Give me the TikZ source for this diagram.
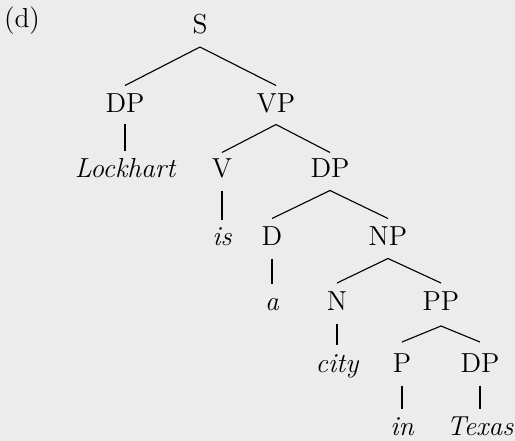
\documentclass[tikz,border=0pt]{standalone}
\usetikzlibrary{positioning}

\begin{document}
\begin{tikzpicture}[x=0.4pt, y=-0.4pt,
    cat/.style={font=\fontsize{11}{13}\selectfont, inner sep=0pt, text height=7.4pt, text depth=0pt, anchor=base},
    word/.style={cat, font=\fontsize{11}{13}\selectfont\itshape},
    branch/.style={black, line width=0.45pt}]
    \fill[black!7.5] (0,0) rectangle (515,441);
    \useasboundingbox (0,0) rectangle (515,441);
    \node[cat] (lbl) at (22,27) {(d)};
    \node[cat] (s) at (200,33) {S};
    \node[cat] (dp1) at (125,112) {DP};
    \node[cat] (vp) at (276,112) {VP};
    \node[word] (lockhart) at (125,177) {Lockhart};
    \node[cat] (v) at (222,177) {V};
    \node[cat] (dp2) at (330,177) {DP};
    \node[word] (is) at (222,245) {is};
    \node[cat] (d) at (272,245) {D};
    \node[cat] (np) at (388,245) {NP};
    \node[word] (a) at (272,310) {a};
    \node[cat] (n) at (337,310) {N};
    \node[cat] (pp) at (441,310) {PP};
    \node[word] (city) at (337,372) {city};
    \node[cat] (p) at (402,372) {P};
    \node[cat] (dp3) at (480,372) {DP};
    \node[word] (in) at (402,435) {in};
    \node[word] (texas) at (480,435) {Texas};
    \draw[branch] ([yshift=-5.4pt]s.south) -- ([yshift=3pt]dp1.north);
    \draw[branch] ([yshift=-5.4pt]s.south) -- ([yshift=3pt]vp.north);
    \draw[branch] ([yshift=-4.4pt]dp1.south) -- ([yshift=3pt]lockhart.north);
    \draw[branch] ([yshift=-4.8pt]vp.south) -- ([yshift=2.2pt]v.north);
    \draw[branch] ([yshift=-4.8pt]vp.south) -- ([yshift=2.2pt]dp2.north);
    \draw[branch] ([yshift=-5.2pt]v.south) -- ([yshift=2.6pt]is.north);
    \draw[branch] ([yshift=-5.2pt]dp2.south) -- ([yshift=3pt]d.north);
    \draw[branch] ([yshift=-5.2pt]dp2.south) -- ([yshift=3pt]np.north);
    \draw[branch] ([yshift=-5.2pt]d.south) -- ([yshift=3pt]a.north);
    \draw[branch] ([yshift=-5.2pt]np.south) -- ([yshift=3.2pt]n.north);
    \draw[branch] ([yshift=-5.2pt]np.south) -- ([yshift=3.2pt]pp.north);
    \draw[branch] ([yshift=-5.2pt]n.south) -- ([yshift=3.2pt]city.north);
    \draw[branch] ([yshift=-6.2pt]pp.south) -- ([yshift=4.4pt]p.north);
    \draw[branch] ([yshift=-6.2pt]pp.south) -- ([yshift=4.4pt]dp3.north);
    \draw[branch] ([yshift=-5.2pt]p.south) -- ([yshift=3pt]in.north);
    \draw[branch] ([yshift=-5.2pt]dp3.south) -- ([yshift=3pt]texas.north);
\end{tikzpicture}
\end{document}
